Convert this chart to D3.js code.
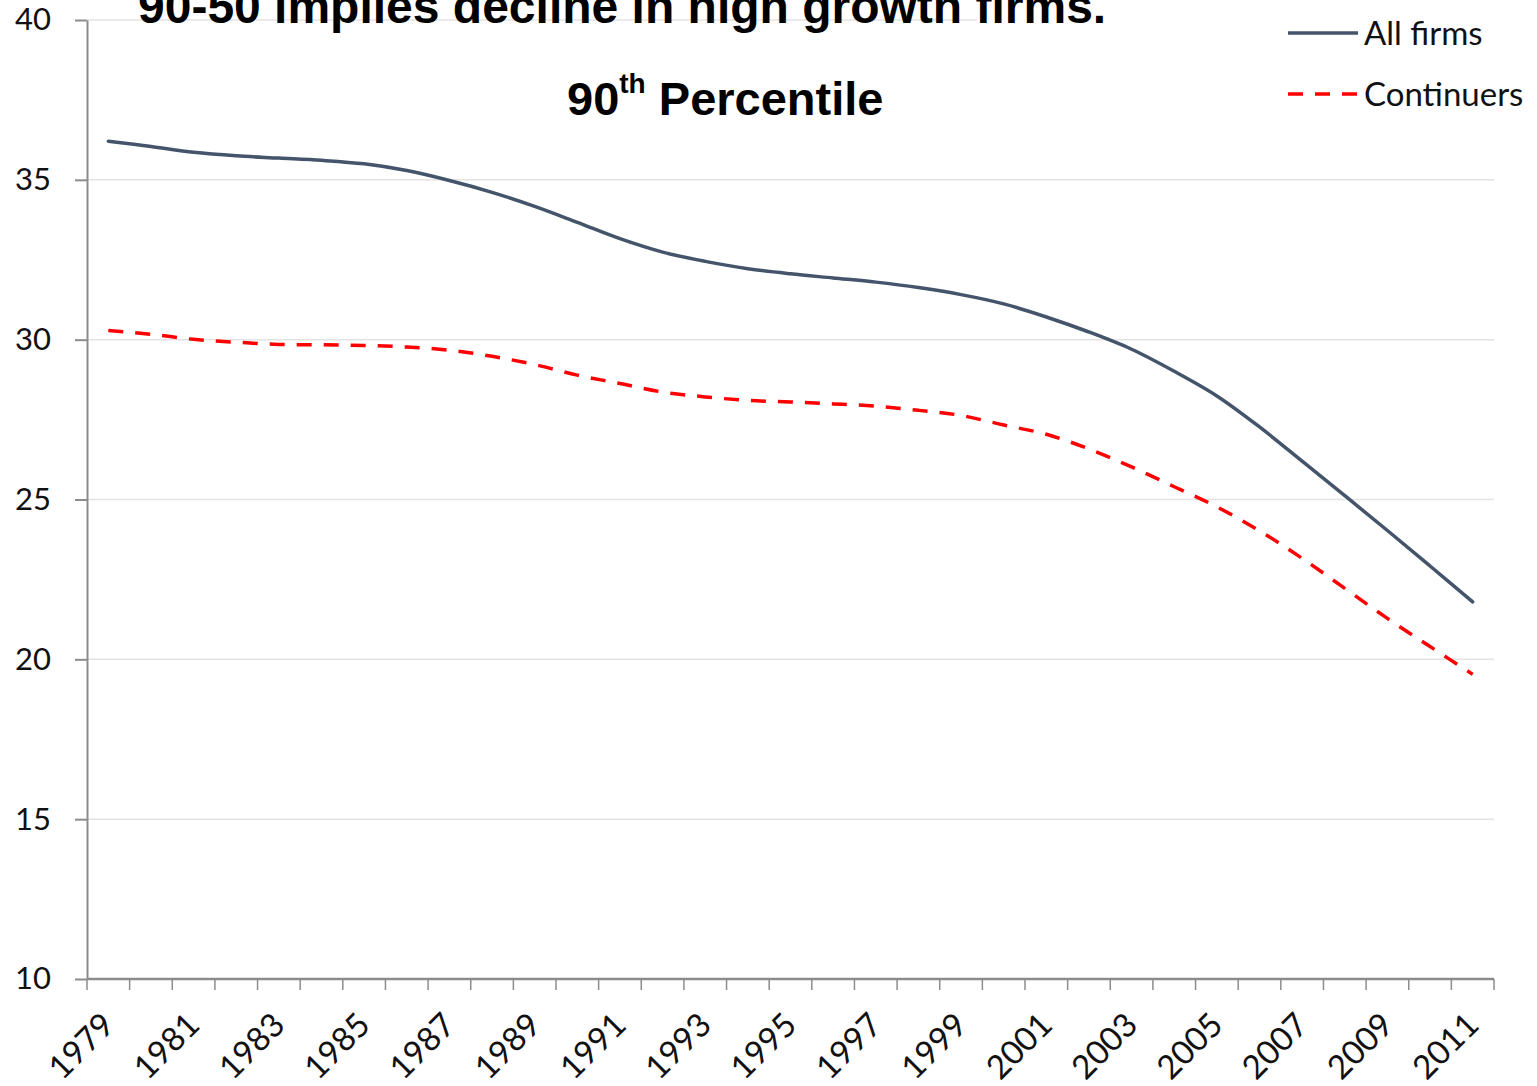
<!DOCTYPE html>
<html>
<head>
<meta charset="utf-8">
<script src="https://cdn.jsdelivr.net/npm/d3@7"></script>
<style>
  html, body { margin: 0; padding: 0; background: #fff; }
  svg { display: block; }
</style>
</head>
<body>
<svg id="chart" width="1537" height="1086"></svg>
<script>
// Years on the category axis
const years = d3.range(1979, 2012).map(String);

// 90th percentile of firm growth, all firms
const allFirms = [
  36.21, 36.04, 35.86, 35.75, 35.68, 35.61, 35.50, 35.29, 34.98, 34.61,
  34.17, 33.67, 33.16, 32.74, 32.45, 32.22, 32.06, 31.93, 31.80, 31.63,
  31.41, 31.12, 30.71, 30.24, 29.70, 29.01, 28.24, 27.27, 26.20, 25.12,
  24.03, 22.92, 21.80
];

// 90th percentile of firm growth, continuing firms
const continuers = [
  30.29, 30.17, 30.01, 29.92, 29.85, 29.84, 29.82, 29.77, 29.67, 29.48,
  29.22, 28.89, 28.63, 28.36, 28.21, 28.10, 28.05, 27.99, 27.92, 27.79,
  27.63, 27.33, 27.04, 26.58, 26.02, 25.40, 24.77, 24.02, 23.16, 22.22,
  21.28, 20.40, 19.53
];

const yTicks = [10, 15, 20, 25, 30, 35, 40];
const seriesNames = ["All firms", "Continuers"];

const svg = d3.select("#chart");
const plot = { left: 87, right: 1494, top: 20, bottom: 979 };

const x = d3.scaleBand().domain(years).range([plot.left, plot.right]).padding(0);
const y = d3.scaleLinear().domain([10, 40]).range([plot.bottom, plot.top]);
const cx = d => x(d) + x.bandwidth() / 2;

// horizontal gridlines
svg.append("g")
  .selectAll("line")
  .data(yTicks.filter(t => t > 10))
  .join("line")
  .attr("x1", plot.left).attr("x2", plot.right)
  .attr("y1", d => y(d)).attr("y2", d => y(d))
  .attr("stroke", "#e3e3e3").attr("stroke-width", 1.5);

// y axis
const yAxis = svg.append("g")
  .attr("transform", `translate(${plot.left},0)`)
  .call(d3.axisLeft(y).tickValues(yTicks).tickSize(12).tickPadding(24).tickSizeOuter(0));
yAxis.select(".domain").attr("stroke", "#8c8c8c").attr("stroke-width", 2);
yAxis.selectAll(".tick line").attr("stroke", "#8c8c8c").attr("stroke-width", 2);
yAxis.selectAll(".tick text")
  .attr("font-family", "Lato, sans-serif").attr("font-size", 31).attr("fill", "#111");

// x axis: line plus a tick at every category boundary
const xg = svg.append("g");
xg.append("line")
  .attr("x1", plot.left).attr("x2", plot.right)
  .attr("y1", plot.bottom).attr("y2", plot.bottom)
  .attr("stroke", "#8c8c8c").attr("stroke-width", 2.5);
const bounds = years.map(d => x(d)).concat([plot.right]);
xg.selectAll("line.tk")
  .data(bounds)
  .join("line")
  .attr("class", "tk")
  .attr("x1", d => d).attr("x2", d => d)
  .attr("y1", plot.bottom).attr("y2", plot.bottom + 11)
  .attr("stroke", "#8c8c8c").attr("stroke-width", 1.5);

// year labels, every other year, rotated
xg.selectAll("text")
  .data(years.filter((d, i) => i % 2 === 0))
  .join("text")
  .attr("transform", d => `translate(${cx(d) + 8},${plot.bottom + 48}) rotate(-45)`)
  .attr("text-anchor", "end")
  .attr("font-family", "Lato, sans-serif")
  .attr("font-size", 33)
  .attr("fill", "#111")
  .text(d => d);

// legend backdrop
svg.append("rect")
  .attr("x", 977).attr("y", 0).attr("width", 560).attr("height", 125)
  .attr("fill", "#fff");

// series lines
const line = d3.line()
  .x((d, i) => cx(years[i]))
  .y(d => y(d))
  .curve(d3.curveCatmullRom.alpha(0.5));

svg.append("path")
  .datum(allFirms)
  .attr("d", line)
  .attr("fill", "none")
  .attr("stroke", "#44546a")
  .attr("stroke-width", 3.5)
  .attr("stroke-linecap", "round");

svg.append("path")
  .datum(continuers)
  .attr("d", line)
  .attr("fill", "none")
  .attr("stroke", "#ff0000")
  .attr("stroke-width", 3.5)
  .attr("stroke-dasharray", "15,12");

// legend
const legend = svg.append("g");
const legendRows = [
  { name: seriesNames[0], color: "#44546a", dash: null, y: 33 },
  { name: seriesNames[1], color: "#ff0000", dash: "15,12", y: 94 }
];
legendRows.forEach(r => {
  legend.append("line")
    .attr("x1", 1288).attr("x2", 1358)
    .attr("y1", r.y).attr("y2", r.y)
    .attr("stroke", r.color).attr("stroke-width", 3.5)
    .attr("stroke-dasharray", r.dash);
  legend.append("text")
    .attr("x", 1364).attr("y", r.y)
    .attr("dy", "0.36em")
    .attr("font-family", "Lato, sans-serif")
    .attr("font-size", 33)
    .attr("fill", "#111")
    .text(r.name);
});

// titles
svg.append("text")
  .attr("x", 138).attr("y", 23)
  .attr("font-family", "Liberation Sans, Arial, sans-serif")
  .attr("font-weight", "bold")
  .attr("font-size", 48)
  .attr("fill", "#000")
  .text("90-50 implies decline in high growth firms.");

const sub = svg.append("text")
  .attr("x", 567).attr("y", 115)
  .attr("font-family", "Liberation Sans, Arial, sans-serif")
  .attr("font-weight", "bold")
  .attr("font-size", 47)
  .attr("fill", "#000");
sub.append("tspan").text("90");
sub.append("tspan").attr("font-size", 28).attr("dy", -22).text("th");
sub.append("tspan").attr("dy", 22).text(" Percentile");
</script>
</body>
</html>
